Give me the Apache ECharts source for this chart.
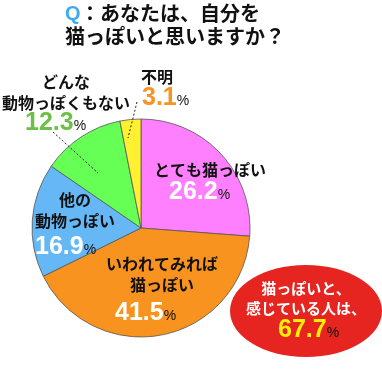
<!DOCTYPE html>
<html><head><meta charset="utf-8">
<script src="https://cdn.jsdelivr.net/npm/echarts@6/dist/echarts.min.js"></script>
<style>html,body{margin:0;padding:0;background:#fff}#c{width:382px;height:381px}</style>
</head><body><div id="c"></div>
<script>
var categories = ['とても猫っぽい', 'いわれてみれば\n猫っぽい', '他の\n動物っぽい', 'どんな\n動物っぽくもない', '不明'];
var values = [26.2, 41.5, 16.9, 12.3, 3.1];
var sliceColors = ['#FF80FF', '#F7931E', '#65B8F5', '#66FF55', '#FFF030'];
var numberColors = ['#ffffff', '#ffffff', '#ffffff', '#6CC04A', '#F7931E'];
var titleLines = ['あなたは、自分を', '猫っぽいと思いますか？'];
var summaryLines = ['猫っぽいと、', '感じている人は、'];
var summaryValue = 67.7;

var FONT = '"Noto Sans CJK JP", sans-serif';
var NUMFONT = '"Liberation Sans", Arial, sans-serif';

// layout: name label centre, number label left edge / centre y
var namePos = [[210, 170], [162, 274.5], [75, 210.5], [66, 92.5], [157, 77]];
var numPos = [[169, 192], [115, 313], [35, 247], [25, 123], [142, 98]];

var chart = echarts.init(document.getElementById('c'));
var numRich = {pct: {fontFamily: NUMFONT, fontSize: 14, color: '#111', lineHeight: 20, verticalAlign: 'bottom'}};
numberColors.forEach(function (c, i) {
  numRich['n' + i] = {fontFamily: NUMFONT, fontSize: 25, fontWeight: 'bold', color: c, lineHeight: 20};
});

var pieData = categories.map(function (n, i) {
  return {name: n, value: values[i], itemStyle: {color: sliceColors[i]}};
});
var ghostData = categories.map(function (n, i) {
  return {name: n, value: values[i]};
});

var option = {
  animation: false,
  graphic: [
    {type: 'text', left: 65, top: 4, style: {text: 'Q', font: 'bold 20px ' + NUMFONT, fill: '#3FA9F5'}},
    {type: 'text', left: 80, top: 3, style: {text: '：' + titleLines[0], font: 'bold 20px ' + FONT, fill: '#111'}},
    {type: 'text', left: 65, top: 26, style: {text: titleLines[1], font: 'bold 20px ' + FONT, fill: '#111'}},
    {type: 'ellipse', shape: {cx: 306, cy: 311, rx: 76, ry: 46}, style: {fill: '#E62420'}, z: 10},
    {type: 'text', x: 306, y: 278, z: 11, style: {text: summaryLines[0] + '\n' + summaryLines[1], font: 'bold 15px ' + FONT, fill: '#fff', align: 'center', lineHeight: 20}},
    {type: 'text', x: 278, y: 330, z: 11, style: {
      text: '{n|' + summaryValue.toFixed(1) + '}{p|%}', align: 'left', verticalAlign: 'middle',
      rich: {n: {fontFamily: NUMFONT, fontSize: 25, fontWeight: 'bold', fill: '#FFF100', lineHeight: 20}, p: {fontFamily: NUMFONT, fontSize: 14, fill: '#111', lineHeight: 20, verticalAlign: 'bottom'}}
    }},
    {type: 'line', shape: {x1: 53, y1: 132, x2: 98, y2: 173}, style: {stroke: '#222', lineWidth: 1, lineDash: [2, 2]}, z: 5},
    {type: 'line', shape: {x1: 137, y1: 102, x2: 128, y2: 138}, style: {stroke: '#222', lineWidth: 1, lineDash: [2, 2]}, z: 5}
  ],
  series: [{
    type: 'pie',
    center: [141, 228],
    radius: [0, 109],
    startAngle: 90,
    clockwise: true,
    silent: true,
    itemStyle: {borderColor: '#555', borderWidth: 0.8},
    data: pieData,
    label: {
      show: true,
      position: 'inside',
      fontFamily: FONT, fontSize: 16, fontWeight: 'bold', color: '#111', lineHeight: 21,
      formatter: '{b}'
    },
    labelLine: {show: false},
    labelLayout: function (params) {
      var p = namePos[params.dataIndex];
      return {x: p[0], y: p[1], align: 'center', verticalAlign: 'middle'};
    }
  }, {
    type: 'pie',
    center: [141, 228],
    radius: [0, 109],
    startAngle: 90,
    clockwise: true,
    silent: true,
    z: 3,
    itemStyle: {color: 'rgba(0,0,0,0)', borderWidth: 0},
    data: ghostData,
    label: {
      show: true,
      position: 'inside',
      rich: numRich,
      formatter: function (p) {
        return '{n' + p.dataIndex + '|' + p.value.toFixed(1) + '}{pct|%}';
      }
    },
    labelLine: {show: false},
    labelLayout: function (params) {
      var p = numPos[params.dataIndex];
      return {x: p[0], y: p[1], align: 'left', verticalAlign: 'middle'};
    }
  }]
};
chart.setOption(option);
</script></body></html>
